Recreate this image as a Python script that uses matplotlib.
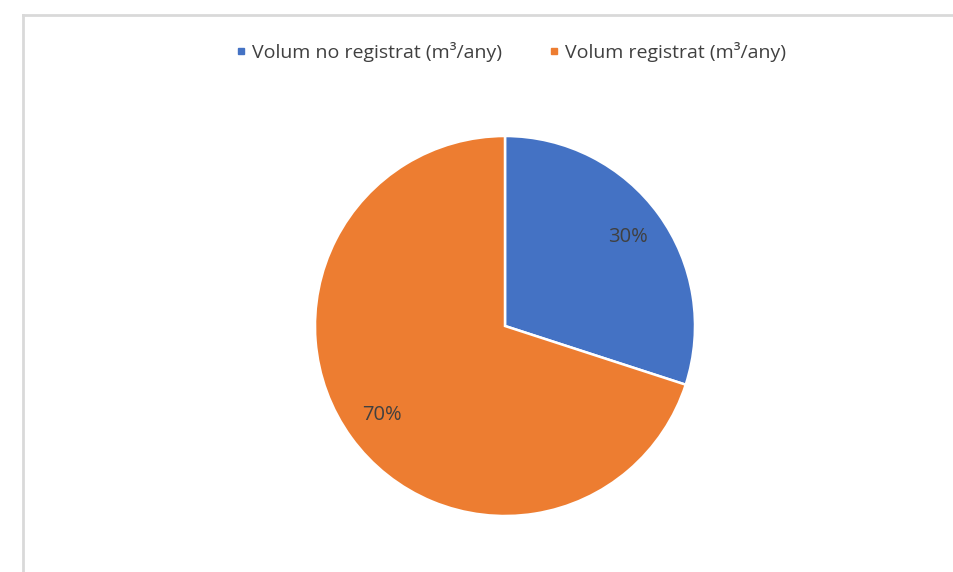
import matplotlib
matplotlib.use('Agg')
import matplotlib.pyplot as plt
from matplotlib.lines import Line2D

# ================= data =================
labels = ['Volum no registrat (m³/any)', 'Volum registrat (m³/any)']
shares = [30, 70]
colors = ['#4472C4', '#ED7D31']

plt.rcParams['font.family'] = ['Open Sans', 'DejaVu Sans']

fig = plt.figure(figsize=(9.54, 5.72), dpi=100)
W, H = 954, 572

# pie box: centre (505, 326) px from top-left, radius 190 px
cx, cy, r = 505, 326, 190
ax = fig.add_axes([(cx - r) / W, (H - cy - r) / H, 2 * r / W, 2 * r / H])

wedges, texts, autotexts = ax.pie(
    shares, colors=colors, startangle=90, counterclock=False,
    autopct='%1.0f%%', pctdistance=0.8,
    wedgeprops=dict(edgecolor='white', linewidth=1.8),
    textprops=dict(color='#404040', fontsize=14.5))
ax.set_xlim(-1.0, 1.0)
ax.set_ylim(-1.0, 1.0)

# legend on top
handles = [Line2D([], [], marker='s', linestyle='none', markersize=5,
                  markerfacecolor=c, markeredgecolor=c) for c in colors]
fig.legend(handles, labels, loc='center', ncol=2, frameon=False,
           bbox_to_anchor=(511 / W, 1 - 52 / H), fontsize=14,
           handlelength=0.5, handletextpad=0.3, columnspacing=2.45,
           labelcolor='#404040')

# chart area border (top and left edges visible)
border = dict(transform=fig.transFigure, color='#d9d9d9', linewidth=2)
fig.add_artist(Line2D([23 / W, 1], [1 - 15 / H, 1 - 15 / H], **border))
fig.add_artist(Line2D([23 / W, 23 / W], [0, 1 - 15 / H], **border))

fig.savefig('out.png', dpi=100)
